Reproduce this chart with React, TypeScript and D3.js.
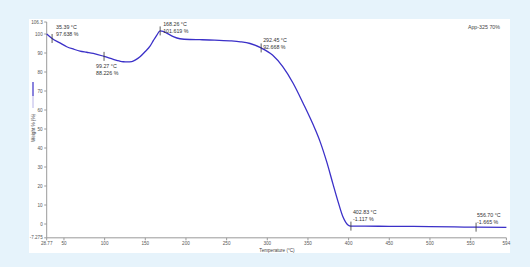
import React from "react";
import * as d3 from "d3";

const temps = [28.77, 35.39, 45, 53.4, 62, 69.7, 78, 86, 99.27, 110.7, 118, 123, 128, 133.3, 138, 143.5, 150, 155.8, 160, 164, 168.26, 172, 177, 184.4, 192.6, 205, 217, 235, 254, 267, 278.8, 292.45, 306.4, 319, 331.6, 343.9, 358.7, 364.8, 373, 380.8, 387, 393, 399.2, 402.83, 420, 450, 472, 500, 530, 556.7, 594];
const weights = [100.0, 97.638, 95.3, 93.3, 92.0, 91.0, 90.4, 89.8, 88.226, 86.7, 85.8, 85.4, 85.3, 85.5, 86.4, 88.0, 90.8, 93.6, 96.6, 99.3, 101.619, 101.4, 100.3, 98.6, 97.5, 97.1, 97.0, 96.8, 96.4, 95.9, 95.0, 92.668, 88.9, 82.8, 74.2, 63.7, 50.0, 43.5, 32.8, 21.0, 11.8, 3.8, -0.5, -1.117, -1.15, -1.2, -1.25, -1.4, -1.55, -1.665, -1.75];

const markerTemps = [35.39, 99.27, 168.26, 292.45, 402.83, 556.7];
const markerWeights = [97.638, 88.226, 101.619, 92.668, -1.117, -1.665];
const markerTempLabels = ["35.39 °C", "99.27 °C", "168.26 °C", "292.45 °C", "402.83 °C", "556.70 °C"];
const markerWeightLabels = ["97.638 %", "88.226 %", "101.619 %", "92.668 %", "-1.117 %", "-1.665 %"];

const xTicks = [28.77, 50, 100, 150, 200, 250, 300, 350, 400, 450, 500, 550, 594];
const xTickLabels = ["28.77", "50", "100", "150", "200", "250", "300", "350", "400", "450", "500", "550", "594"];
const yTicks = [-7.275, 0, 10, 20, 30, 40, 50, 60, 70, 80, 90, 100, 106.3];
const yTickLabels = ["-7.275", "0", "10", "20", "30", "40", "50", "60", "70", "80", "90", "100", "106.3"];

const xTitle = "Temperature (°C)";
const yTitle = "Weight % (%)";
const sampleName = "App-325 70%";

// label offsets (layout only)
const labelDx = [4, -8, 3, 2, 2, 1];
const labelDy = [-9, 12, -5, -6, -12, -10];

export default function App() {
  const x = d3.scaleLinear().domain([28.77, 594]).range([46.7, 506.4]);
  const y = d3.scaleLinear().domain([0, 100]).range([224, 34]);
  const data = temps.map((t, i) => [t, weights[i]] as [number, number]);
  const line = d3
    .line<[number, number]>()
    .x((d) => x(d[0]))
    .y((d) => y(d[1]))
    .curve(d3.curveMonotoneX);
  const font = "'Liberation Sans', Arial, sans-serif";
  const x0 = x(28.77);
  const yBase = y(-7.275);
  const yTop = y(106.3);
  return (
    <svg
      width={530}
      height={267}
      style={{ position: "absolute", left: 0, top: 0 }}
      fontFamily={font}
    >
      <rect x={0} y={0} width={530} height={267} fill="#e6f3fb" />
      <rect x={29} y={19} width={481} height={234} fill="#ffffff" />
      {/* axes */}
      <line x1={x0} x2={x0} y1={yTop} y2={yBase} stroke="#9a9a9a" strokeWidth={1} />
      <line x1={x0} x2={x(594)} y1={yBase} y2={yBase} stroke="#9a9a9a" strokeWidth={1} />
      {yTicks.map((t, i) => (
        <g key={"y" + i}>
          <line x1={x0 - 2.5} x2={x0} y1={y(t)} y2={y(t)} stroke="#9a9a9a" />
          <text x={x0 - 4} y={y(t) + 1.6} fontSize={4.6} textAnchor="end" fill="#555">
            {yTickLabels[i]}
          </text>
        </g>
      ))}
      {xTicks.map((t, i) => (
        <g key={"x" + i}>
          <line x1={x(t)} x2={x(t)} y1={yBase} y2={yBase + 2.5} stroke="#9a9a9a" />
          <text x={x(t)} y={yBase + 7} fontSize={4.6} textAnchor="middle" fill="#555">
            {xTickLabels[i]}
          </text>
        </g>
      ))}
      <text x={277} y={251.5} fontSize={4.6} textAnchor="middle" fill="#444">
        {xTitle}
      </text>
      <text
        transform={`translate(34.5,128) rotate(-90)`}
        fontSize={4.6}
        textAnchor="middle"
        fill="#444"
      >
        {yTitle}
      </text>
      <line x1={33} x2={33} y1={82} y2={96} stroke="#3b30c8" strokeWidth={1.2} />
      <line x1={33} x2={33} y1={96} y2={108} stroke="#b8b4e8" strokeWidth={1} />
      <text x={500} y={29} fontSize={5.3} textAnchor="end" fill="#444">
        {sampleName}
      </text>
      {/* curve */}
      <path d={line(data) || ""} fill="none" stroke="#3b30c8" strokeWidth={1.3} />
      {/* markers */}
      {markerTemps.map((t, i) => {
        const mx = x(t);
        const my = y(markerWeights[i]);
        return (
          <g key={"m" + i}>
            <line x1={mx} x2={mx} y1={my - 4.5} y2={my + 4.5} stroke="#333" strokeWidth={0.8} />
            <text x={mx + labelDx[i]} y={my + labelDy[i]} fontSize={5.3} fill="#333">
              {markerTempLabels[i]}
            </text>
            <text x={mx + labelDx[i]} y={my + labelDy[i] + 7} fontSize={5.3} fill="#333">
              {markerWeightLabels[i]}
            </text>
          </g>
        );
      })}
    </svg>
  );
}
